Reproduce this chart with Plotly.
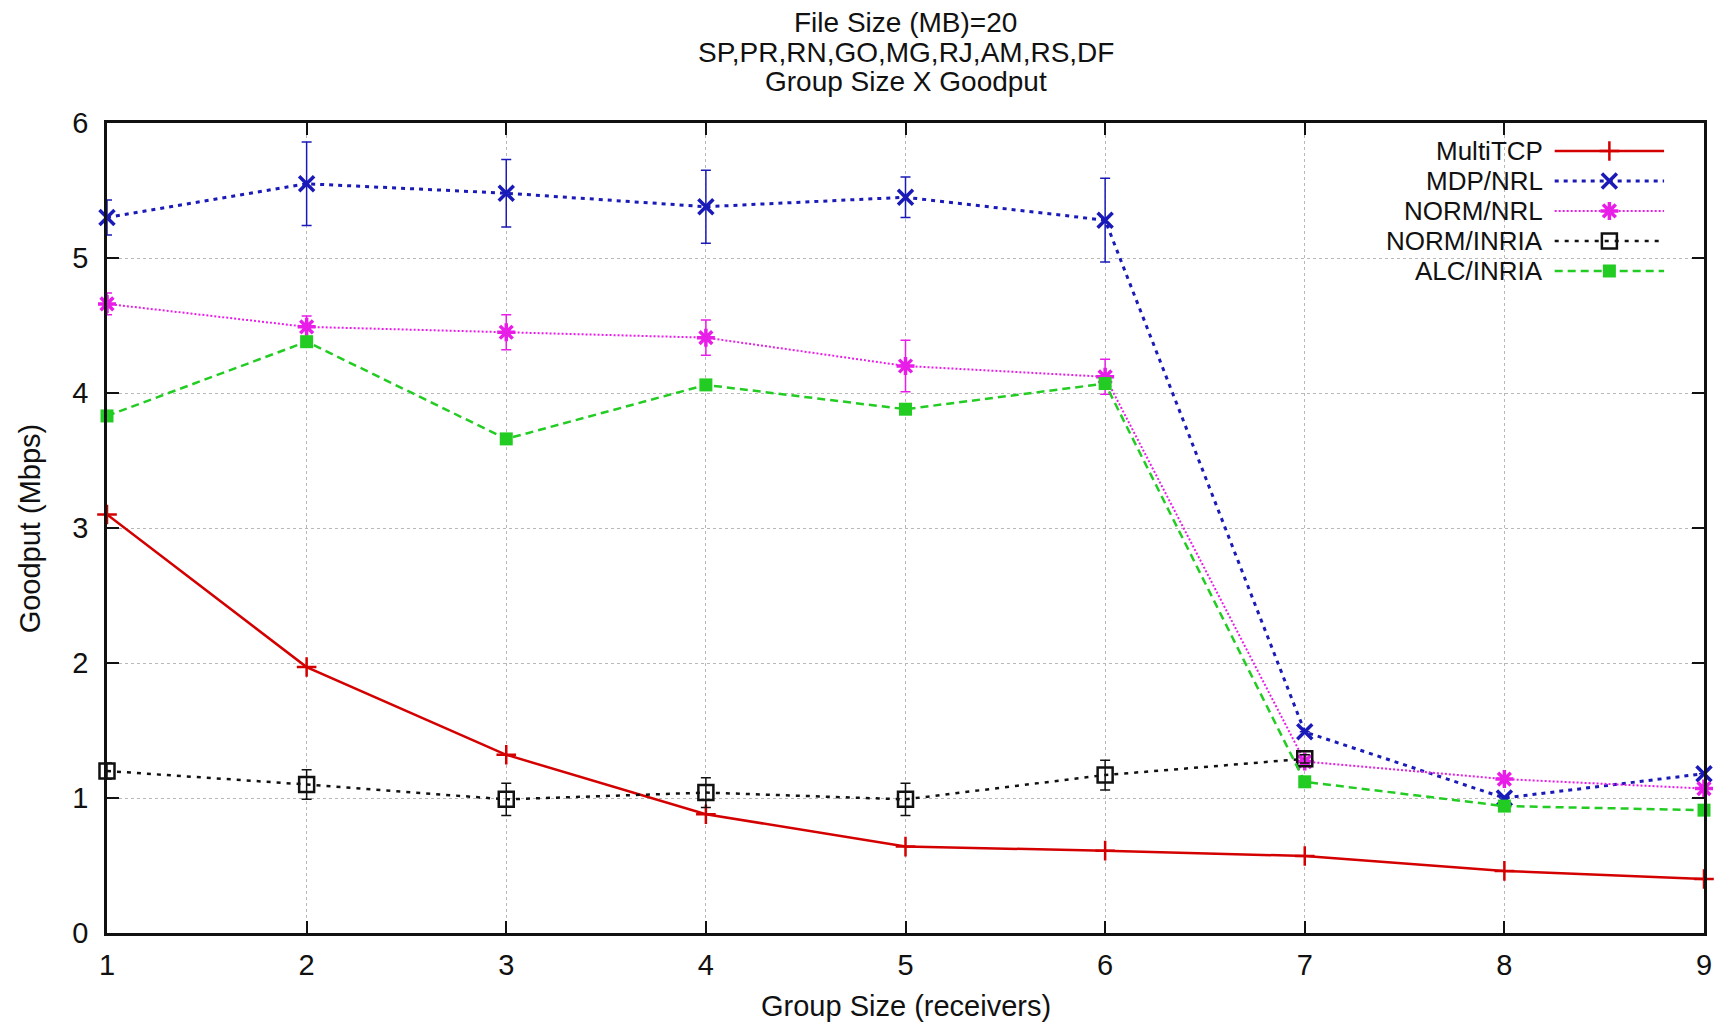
import plotly.graph_objects as go

# ---- data ----
group_size = [1, 2, 3, 4, 5, 6, 7, 8, 9]
multitcp = [3.10, 1.97, 1.32, 0.88, 0.64, 0.61, 0.57, 0.46, 0.40]
mdp_nrl = [5.30, 5.55, 5.48, 5.38, 5.45, 5.28, 1.49, 1.00, 1.18]
mdp_nrl_err = [0.13, 0.31, 0.25, 0.27, 0.15, 0.31, 0.0, 0.0, 0.0]
norm_nrl = [4.66, 4.49, 4.45, 4.41, 4.20, 4.12, 1.27, 1.14, 1.07]
norm_nrl_err = [0.08, 0.08, 0.13, 0.13, 0.19, 0.13, 0.0, 0.0, 0.0]
norm_inria_x = [1, 2, 3, 4, 5, 6, 7]
norm_inria = [1.20, 1.10, 0.99, 1.04, 0.99, 1.17, 1.29]
norm_inria_err = [0.06, 0.11, 0.12, 0.11, 0.12, 0.11, 0.03]
alc_inria = [3.83, 4.38, 3.66, 4.06, 3.88, 4.07, 1.12, 0.94, 0.91]

series_names = ["MultiTCP", "MDP/NRL", "NORM/NRL", "NORM/INRIA", "ALC/INRIA"]
title_lines = ["File Size (MB)=20", "SP,PR,RN,GO,MG,RJ,AM,RS,DF", "Group Size X Goodput"]
x_title = "Group Size (receivers)"
y_title = "Goodput (Mbps)"
x_ticks = [1, 2, 3, 4, 5, 6, 7, 8, 9]
y_ticks = [0, 1, 2, 3, 4, 5, 6]

FONT = "Liberation Sans, Arial, Helvetica, sans-serif"
INK = "#111111"

styles = {
    "MultiTCP": dict(color="#d40000", dash="solid", lw=2.5, sym="cross-thin", ms=14, mlw=2.5),
    "MDP/NRL": dict(color="#1a1ab8", dash="4px,5px", lw=3, sym="x-thin", ms=15, mlw=3.5),
    "NORM/NRL": dict(color="#e81ee8", dash="2px,2px", lw=2, sym="asterisk-open", ms=15, mlw=3.5),
    "NORM/INRIA": dict(color="#111111", dash="4px,6px", lw=2.5, sym="square-open", ms=15, mlw=2.5),
    "ALC/INRIA": dict(color="#22cc22", dash="8px,5px", lw=2.5, sym="square", ms=13, mlw=0),
}

data = {
    "MultiTCP": (group_size, multitcp, None),
    "MDP/NRL": (group_size, mdp_nrl, mdp_nrl_err),
    "NORM/NRL": (group_size, norm_nrl, norm_nrl_err),
    "NORM/INRIA": (norm_inria_x, norm_inria, norm_inria_err),
    "ALC/INRIA": (group_size, alc_inria, None),
}

fig = go.Figure()
for name in series_names:
    xs, ys, err = data[name]
    s = styles[name]
    tr = dict(
        x=xs, y=ys, mode="lines+markers", name=name, showlegend=False,
        line=dict(color=s["color"], width=s["lw"], dash=s["dash"]),
        marker=dict(symbol=s["sym"], size=s["ms"], color=s["color"],
                    line=dict(color=s["color"], width=s["mlw"])),
        cliponaxis=False,
    )
    if err is not None:
        tr["error_y"] = dict(type="data", array=err, visible=True,
                             color=s["color"], thickness=1.5, width=5)
    fig.add_trace(go.Scatter(**tr))

# ---- custom gnuplot-style legend (text left, sample right) ----
leg_x0, leg_x1 = 0.9065, 0.975
leg_rows = [0.9654, 0.9284, 0.8914, 0.8543, 0.8173]
for name, ly in zip(series_names, leg_rows):
    s = styles[name]
    fig.add_trace(go.Scatter(
        x=[leg_x0, leg_x1], y=[ly, ly], xaxis="x2", yaxis="y2", mode="lines",
        line=dict(color=s["color"], width=s["lw"], dash=s["dash"]),
        showlegend=False, hoverinfo="skip"))
    fig.add_trace(go.Scatter(
        x=[(leg_x0 + leg_x1) / 2], y=[ly], xaxis="x2", yaxis="y2", mode="markers",
        marker=dict(symbol=s["sym"], size=s["ms"], color=s["color"],
                    line=dict(color=s["color"], width=s["mlw"])),
        showlegend=False, hoverinfo="skip"))
    fig.add_annotation(x=0.8996, y=ly, xref="x2", yref="y2", text=name,
                       showarrow=False, xanchor="right", yanchor="middle",
                       borderpad=0,
                       font=dict(family=FONT, size=26, color=INK))

# ---- title lines ----
for txt, ty in zip(title_lines, [1.1235, 1.0865, 1.0507]):
    fig.add_annotation(x=0.5, y=ty, xref="paper", yref="paper", text=txt,
                       showarrow=False, xanchor="center", yanchor="middle",
                       borderpad=0,
                       font=dict(family=FONT, size=28, color=INK))

# ---- axis titles ----
fig.add_annotation(x=0.5, y=-0.090, xref="paper", yref="paper", text=x_title,
                   showarrow=False, xanchor="center", yanchor="middle",
                   font=dict(family=FONT, size=29, color=INK))
fig.add_annotation(x=-0.048, y=0.5, xref="paper", yref="paper", text=y_title,
                   showarrow=False, xanchor="center", yanchor="middle", textangle=-90,
                   font=dict(family=FONT, size=29, color=INK))

axis_common = dict(
    showline=True, linecolor=INK, linewidth=2.5, mirror="ticks",
    ticks="inside", ticklen=12, tickwidth=2, tickcolor=INK,
    showgrid=True, gridcolor="#b8b8b8", griddash="dot", gridwidth=1,
    zeroline=False, tickfont=dict(family=FONT, size=29, color=INK),
)

fig.update_layout(
    width=1716, height=1014,
    paper_bgcolor="white", plot_bgcolor="white",
    margin=dict(l=99, r=13, t=115, b=89),
    xaxis=dict(range=[1, 9], tickvals=x_ticks, ticklabelstandoff=4, **axis_common),
    yaxis=dict(range=[0, 6], tickvals=y_ticks, ticklabelstandoff=10, **axis_common),
    xaxis2=dict(range=[0, 1], overlaying="x", visible=False, anchor="y2"),
    yaxis2=dict(range=[0, 1], overlaying="y", visible=False, anchor="x2"),
    showlegend=False,
)

fig.write_html("out.html")
